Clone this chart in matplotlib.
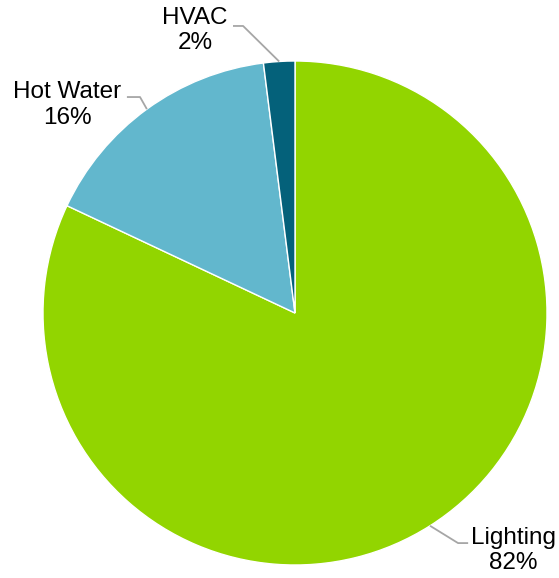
import numpy as np
import matplotlib.pyplot as plt

labels = ['Lighting', 'Hot Water', 'HVAC']
values = [82, 16, 2]
colors = ['#92D500', '#62B7CD', '#04617A']

# label text centres and leader elbows, in pie-radius units
text_pos = [(0.867, -0.942), (-0.905, 0.825), (-0.397, 1.121)]
elbow_pos = [(0.647, -0.913), (-0.615, 0.857), (-0.206, 1.139)]
line_end = [(0.687, -0.913), (-0.667, 0.857), (-0.246, 1.139)]

plt.rcParams['font.family'] = ['Liberation Sans', 'DejaVu Sans']

fig = plt.figure(figsize=(5.59, 5.78), dpi=100)
ax = fig.add_axes([0, 0, 1, 1])
wedges, _ = ax.pie(values, colors=colors, startangle=90, counterclock=False,
                   radius=1, wedgeprops=dict(edgecolor='white', linewidth=1))

for w, lab, v, tp, ep, le in zip(wedges, labels, values, text_pos, elbow_pos, line_end):
    mid = np.deg2rad((w.theta1 + w.theta2) / 2)
    sx, sy = np.cos(mid), np.sin(mid)
    ax.plot([sx, ep[0], le[0]], [sy, ep[1], le[1]], color='#A6A6A6', lw=1.3,
            solid_capstyle='butt')
    ax.text(tp[0], tp[1], f'{lab}\n{v}%', ha='center', va='center', fontsize=17.5,
            linespacing=1.2, color='black')

ax.set_xlim(-295 / 252, (559 - 295) / 252)
ax.set_ylim(-(578 - 313) / 252, 313 / 252)
ax.set_aspect('auto')
ax.axis('off')
fig.savefig('out.png', dpi=100)
